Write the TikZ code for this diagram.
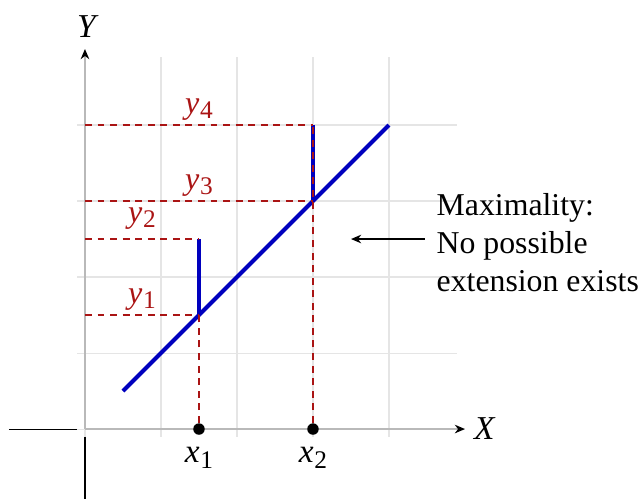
\documentclass[tikz,border=0pt]{standalone}
\usepackage{fontspec}
\setmainfont{Liberation Serif}
\usetikzlibrary{arrows.meta}
\definecolor{dred}{RGB}{170,20,20}
\definecolor{dblue}{RGB}{0,0,190}
\newcommand\lab[2]{\textit{#1}\kern0.3pt\raisebox{-0.35ex}{\fontsize{9.5}{9.5}\selectfont #2}}
\begin{document}
\begin{tikzpicture}[
  gridline/.style={gray!20,line width=0.4pt},
  axis/.style={gray!55,line width=0.6pt},
  negaxis/.style={black,line width=0.4pt},
  blueline/.style={dblue,line width=1.5pt},
  reddash/.style={dred,line width=0.45pt,dash pattern=on 2.6pt off 2.1pt},
  redlab/.style={text=dred,font=\fontsize{12}{12}\selectfont,inner sep=1.5pt},
  axlab/.style={font=\fontsize{12.5}{12.5}\selectfont},
  dot/.style={circle,fill=black,inner sep=0pt,minimum size=4.3pt},
  tip/.style={-{Stealth[black,length=3.8pt,width=3.2pt,inset=1.2pt]}}
]
\useasboundingbox (-1.118,-0.908) rectangle (7.276,5.645);
% grid
\draw[gridline] (-0.1,-0.1) grid (4.9,4.9);
% axes
\coordinate (O) at (0,0);
\coordinate (xneg) at (-1,0);
\coordinate (xnegend) at (-0.1,0);
\coordinate (yneg) at (0,-1);
\coordinate (ynegend) at (0,-0.1);
\coordinate (xend) at (5,0);
\coordinate (yend) at (0,5);
\draw[negaxis] (xneg) -- (xnegend);
\draw[negaxis] (ynegend) -- (yneg);
\draw[axis,tip] (O) -- (xend);
\draw[axis,tip] (O) -- (yend);
\node[axlab] (X) at (5.26,0) {\textit{X}};
\node[axlab] (Y) at (0.04,5.3) {\textit{Y}};
% points
\coordinate (p0) at (0.5,0.5);
\coordinate (p1) at (1.5,1.5);
\coordinate (p2) at (1.5,2.5);
\coordinate (p3) at (3,3);
\coordinate (p4) at (3,4);
\coordinate (pe) at (4,4);
\coordinate (a1) at (0,1.5);
\coordinate (a2) at (0,2.5);
\coordinate (a3) at (0,3);
\coordinate (a4) at (0,4);
% blue lines
\draw[blueline] (p0) -- (pe);
\draw[blueline] (p1) -- (p2);
\draw[blueline] (p3) -- (p4);
% dots on x axis
\node[dot] (x1) at (1.5,0) {};
\node[dot] (x2) at (3,0) {};
% red dashed lines
\draw[reddash] (x1) -- (p1);
\draw[reddash] (x2) -- (p4);
\draw[reddash] (a1) -- node[redlab,above] {\lab{y}{1}} (p1);
\draw[reddash] (a2) -- node[redlab,above=2pt] {\lab{y}{2}} (p2);
\draw[reddash] (a3) -- node[redlab,above] {\lab{y}{3}} (p3);
\draw[reddash] (a4) -- node[redlab,above] {\lab{y}{4}} (p4);
% x labels
\node[axlab,below=1pt] (lx1) at (x1.south) {\lab{x}{1}};
\node[axlab,below=1pt] (lx2) at (x2.south) {\lab{x}{2}};
% annotation
\node[anchor=west,align=left,inner sep=0pt,font=\fontsize{11.9}{14.2}\selectfont] (note) at (4.62,2.45)
  {Maximality:\\No possible\\extension exists};
\coordinate (arrTo) at (3.5,2.5);
\draw[black,line width=0.6pt,tip] (4.47,2.5) -- (arrTo);
\end{tikzpicture}
\end{document}
